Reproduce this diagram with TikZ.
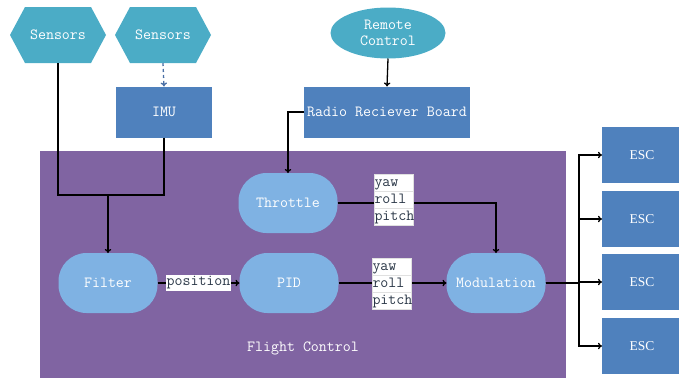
\documentclass[tikz,border=0pt]{standalone}
\usepackage{fontspec}
\newfontfamily\escfont{Liberation Serif}
\usetikzlibrary{arrows.meta,shapes.geometric}
\definecolor{hexcol}{HTML}{4BACC6}
\definecolor{boxcol}{HTML}{4F81BD}
\definecolor{purp}{HTML}{8064A2}
\definecolor{roundcol}{HTML}{7FB2E3}
\definecolor{tabtxt}{HTML}{2B3848}
\definecolor{dashcol}{HTML}{4A6FA5}
\tikzset{
  base/.style={font=\fontsize{15.5}{17}\selectfont\ttfamily, text=white, outer sep=0pt, inner sep=0pt},
  hexnode/.style={base, minimum width=96pt, minimum height=56pt,
    path picture={\fill[hexcol] (path picture bounding box.west)
      -- ([xshift=15pt]path picture bounding box.north west)
      -- ([xshift=-15pt]path picture bounding box.north east)
      -- (path picture bounding box.east)
      -- ([xshift=-15pt]path picture bounding box.south east)
      -- ([xshift=15pt]path picture bounding box.south west) -- cycle;}},
  ellnode/.style={base, ellipse, fill=hexcol, minimum width=115pt, minimum height=51pt, align=center},
  blockbox/.style={base, fill=boxcol, minimum height=51pt},
  roundbox/.style={base, fill=roundcol, rounded corners=28pt, minimum width=99pt, minimum height=60pt},
  escbox/.style={base, font=\fontsize{13.5}{15}\selectfont\escfont, fill=boxcol, minimum width=80pt, minimum height=56pt},
  conn/.style={line width=1.3pt, black},
  arr/.style={conn, -{To[length=4pt,width=6.5pt]}},
  cell/.style={base, text=tabtxt, draw=black!12, line width=0.6pt, fill=white,
    text height=10.5pt, text depth=3.5pt, inner ysep=1.5pt,
    text width=38pt, inner xsep=0.5pt, align=left},
  lbl/.style={base, text=tabtxt, fill=white, inner xsep=1pt, inner ysep=2pt}
}
\begin{document}
\begin{tikzpicture}[x=1pt,y=-1pt]
\useasboundingbox (0,0) rectangle (679,378);
% background
\fill[purp] (40,151) rectangle (566,378);
% nodes
\node[hexnode] (s1) at (58,35) {Sensors};
\node[hexnode] (s2) at (163,35) {Sensors};
\node[blockbox, minimum width=96pt] (imu) at (164,112) {IMU};
\node[ellnode] (rc) at (388,33) {Remote\\[-1pt]Control};
\node[blockbox, minimum width=166pt] (radio) at (387,112) {Radio Reciever Board};
\node[roundbox] (thr) at (288,203) {Throttle};
\node[roundbox] (filt) at (108,283) {Filter};
\node[roundbox] (pid) at (289,283) {PID};
\node[roundbox] (mod) at (496,283) {Modulation};
\node[base] (fc) at (303,348) {Flight Control};
\node[escbox] (e1) at (642,155) {ESC};
\node[escbox] (e2) at (642,219) {ESC};
\node[escbox] (e3) at (642,282) {ESC};
\node[escbox] (e4) at (642,346) {ESC};
\coordinate (j) at (108,195);
\coordinate (br) at (579,283);
% connectors
\draw[conn] (s1.south) |- (j);
\draw[conn] (imu.south) |- (j);
\draw[arr] (j) -- (filt.north);
\draw[dashcol, line width=1.3pt, dashed, -{To[length=4pt,width=6.5pt]}] (s2.south) -- (imu.north);
\draw[arr] (rc.south) -- (radio.north);
\draw[arr] (radio.west) -| (thr.north);
\draw[arr] (thr.east) -| (mod.north);
\draw[arr] (filt.east) -- node[lbl] {position} (pid.west);
\draw[arr] (pid.east) -- (mod.west);
\foreach \i in {1,2,3,4} \draw[arr] (mod.east) -- (br) |- (e\i.west);
% tables
\node[cell] (t1a) at (393.5,182.5) {yaw};
\node[cell] (t1b) at (393.5,199.5) {roll};
\node[cell] (t1c) at (393.5,216.5) {pitch};
\node[cell] (t2a) at (391.5,266.5) {yaw};
\node[cell] (t2b) at (391.5,283.5) {roll};
\node[cell] (t2c) at (391.5,300.5) {pitch};
\end{tikzpicture}
\end{document}
